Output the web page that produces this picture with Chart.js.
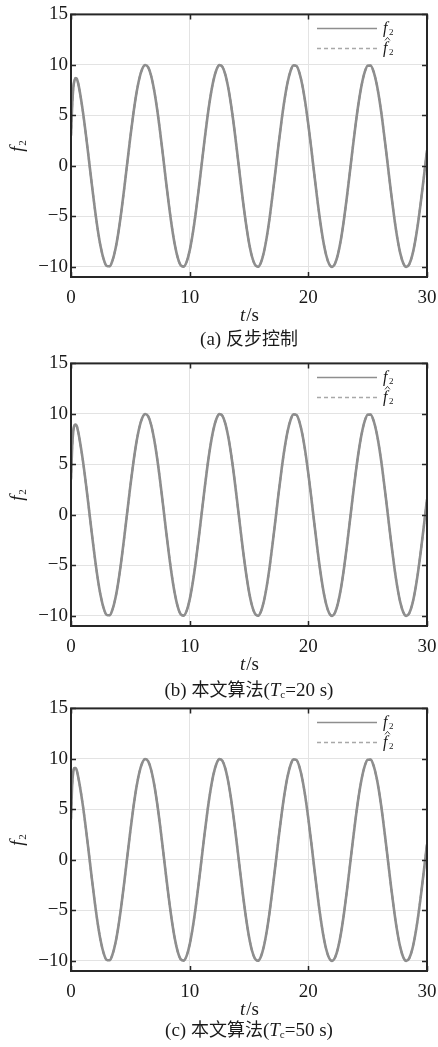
<!DOCTYPE html>
<html>
<head>
<meta charset="utf-8">
<script src="https://cdn.jsdelivr.net/npm/chart.js@4.4.1/dist/chart.umd.min.js"></script>
<style>
    body { margin: 0; background: #fff; width: 438px; height: 1047px; position: relative; overflow: hidden; }
    .panel { position: absolute; left: 0; }
    .caption {
        position: absolute; left: 61px; width: 376px; text-align: center;
        font: 19px "Liberation Serif", "Times New Roman", "DejaVu Serif", serif; line-height: 22px; color: #1a1a1a;
    }
    .caption .cjk { font-family: "Noto Sans CJK SC", sans-serif; font-size: 18px; }
    .caption sub { font-size: 11px; vertical-align: -2px; }
</style>
</head>
<body>
<canvas id="chartBackstep" class="panel" width="438" height="340" style="top:0px"></canvas>
<div class="caption" style="top:326px">(a) <span class="cjk">反步控制</span></div>

<canvas id="chartTc20" class="panel" width="438" height="340" style="top:349px"></canvas>
<div class="caption" style="top:677px">(b) <span class="cjk">本文算法</span>(<i>T</i><sub>c</sub>=20 s)</div>

<canvas id="chartTc50" class="panel" width="438" height="340" style="top:694px"></canvas>
<div class="caption" style="top:1017px">(c) <span class="cjk">本文算法</span>(<i>T</i><sub>c</sub>=50 s)</div>

<script>
if (document.readyState == 'loading') {
    document.addEventListener('DOMContentLoaded', ready);
} else {
    ready();
}

// sample times (s): dense over the start-up, then every 0.25 s
const timeSec = [0, 0.1, 0.2, 0.3, 0.4, 0.5, 0.6, 0.75,
    1, 1.25, 1.5, 1.75, 2, 2.25, 2.5, 2.75, 3, 3.25, 3.5, 3.75, 4, 4.25, 4.5, 4.75,
    5, 5.25, 5.5, 5.75, 6, 6.25, 6.5, 6.75, 7, 7.25, 7.5, 7.75, 8, 8.25, 8.5, 8.75,
    9, 9.25, 9.5, 9.75, 10, 10.25, 10.5, 10.75, 11, 11.25, 11.5, 11.75, 12, 12.25, 12.5, 12.75,
    13, 13.25, 13.5, 13.75, 14, 14.25, 14.5, 14.75, 15, 15.25, 15.5, 15.75, 16, 16.25, 16.5, 16.75,
    17, 17.25, 17.5, 17.75, 18, 18.25, 18.5, 18.75, 19, 19.25, 19.5, 19.75, 20, 20.25, 20.5, 20.75,
    21, 21.25, 21.5, 21.75, 22, 22.25, 22.5, 22.75, 23, 23.25, 23.5, 23.75, 24, 24.25, 24.5, 24.75,
    25, 25.25, 25.5, 25.75, 26, 26.25, 26.5, 26.75, 27, 27.25, 27.5, 27.75, 28, 28.25, 28.5, 28.75,
    29, 29.25, 29.5, 29.75, 30];

// start-up part of f2 (t = 0 .. 0.75) for each controller
const f2HeadBackstep = [3.0, 6.0, 7.8, 8.5, 8.7, 8.6, 8.2, 7.3];
const f2HeadTc20 = [3.5, 6.8, 8.4, 8.9, 8.95, 8.75, 8.25, 7.3];
const f2HeadTc50 = [4.0, 7.5, 8.8, 9.1, 9.1, 8.8, 8.25, 7.3];

// steady part, shared by all three (t = 1 .. 30)
const f2Tail = [5.40, 3.15, 0.71, -1.78, -4.16, -6.28, -8.01, -9.24, -9.90, -9.94, -9.36, -8.21,
    -6.54, -4.46, -2.11, 0.38, 2.84, 5.12, 7.09, 8.61, 9.60, 9.99, 9.77, 8.93,
    7.54, 5.68, 3.47, 1.04, -1.46, -3.86, -6.02, -7.81, -9.11, -9.85, -9.97, -9.48,
    -8.39, -6.78, -4.76, -2.43, 0.04, 2.52, 4.84, 6.85, 8.44, 9.50, 9.98, 9.83,
    9.07, 7.75, 5.95, 3.78, 1.37, -1.13, -3.55, -5.75, -7.60, -8.97, -9.78, -9.99,
    -9.58, -8.57, -7.03, -5.05, -2.75, -0.29, 2.20, 4.54, 6.60, 8.26, 9.40, 9.95,
    9.89, 9.21, 7.96, 6.21, 4.08, 1.70, -0.80, -3.24, -5.48, -7.38, -8.82, -9.71,
    -10.00, -9.67, -8.73, -7.26, -5.33, -3.07, -0.62, 1.87, 4.24, 6.35, 8.06, 9.28,
    9.91, 9.93, 9.33, 8.15, 6.47, 4.39, 2.02, -0.46, -2.92, -5.20, -7.15, -8.66,
    -9.63, -10.00, -9.75, -8.89, -7.48, -5.61, -3.38, -0.95, 1.54];

const xTicks = [0, 10, 20, 30];
const yTicks = [-10, -5, 0, 5, 10, 15];

const lineGrey = '#8e8e8e';
const serif = '"Liberation Serif", "Times New Roman", "DejaVu Serif", serif';

function ready() {
    createPanel('chartBackstep', f2HeadBackstep);
    createPanel('chartTc20', f2HeadTc20);
    createPanel('chartTc50', f2HeadTc50);
}

function createPanel(canvasId, head) {
    const canvas = document.getElementById(canvasId);
    const f2 = head.concat(f2Tail);
    const f2Points = f2.map((v, i) => ({ x: timeSec[i], y: v }));
    const f2HatPoints = f2.map((v, i) => ({ x: timeSec[i], y: v }));

    // frame, inward ticks, axis titles and legend
    const frameAndLabels = {
        id: 'frameAndLabels',
        afterDraw(chart) {
            const { ctx, chartArea: { left, right, top, bottom }, scales: { x, y } } = chart;
            ctx.save();

            ctx.strokeStyle = '#262626';
            ctx.lineWidth = 2;
            ctx.strokeRect(left, top, right - left, bottom - top);

            ctx.lineWidth = 1.5;
            ctx.beginPath();
            yTicks.forEach(v => {
                const py = Math.round(y.getPixelForValue(v)) + 0.5;
                ctx.moveTo(left, py); ctx.lineTo(left + 5, py);
                ctx.moveTo(right, py); ctx.lineTo(right - 5, py);
            });
            xTicks.forEach(v => {
                const px = Math.round(x.getPixelForValue(v)) + 0.5;
                ctx.moveTo(px, bottom); ctx.lineTo(px, bottom - 5);
                ctx.moveTo(px, top); ctx.lineTo(px, top + 5);
            });
            ctx.stroke();

            ctx.fillStyle = '#1a1a1a';
            ctx.textBaseline = 'middle';

            // x title: t/s
            ctx.font = 'italic 19px ' + serif;
            const tW = ctx.measureText('t').width;
            ctx.font = '19px ' + serif;
            const sW = ctx.measureText('/s').width;
            const tx = (left + right) / 2 - (tW + sW) / 2;
            ctx.textAlign = 'left';
            ctx.font = 'italic 19px ' + serif;
            ctx.fillText('t', tx, bottom + 39);
            ctx.font = '19px ' + serif;
            ctx.fillText('/s', tx + tW + 1, bottom + 39);

            // y title: f2, rotated
            ctx.save();
            ctx.translate(18, (top + bottom) / 2);
            ctx.rotate(-Math.PI / 2);
            ctx.font = 'italic 19px ' + serif;
            ctx.fillText('f', -6, 0);
            ctx.font = '11px ' + serif;
            ctx.fillText('2', 0, 5);
            ctx.restore();

            // legend
            const lx0 = right - 110, lx1 = right - 50;
            const ly0 = top + 14, ly1 = top + 34;
            ctx.strokeStyle = lineGrey;
            ctx.lineWidth = 1.5;
            ctx.beginPath();
            ctx.moveTo(lx0, ly0); ctx.lineTo(lx1, ly0);
            ctx.stroke();
            ctx.strokeStyle = '#a8a8a8';
            ctx.setLineDash([4, 3]);
            ctx.beginPath();
            ctx.moveTo(lx0, ly1); ctx.lineTo(lx1, ly1);
            ctx.stroke();
            ctx.setLineDash([]);

            const fx = right - 44;
            [ly0, ly1].forEach((ly, i) => {
                ctx.font = 'italic 16px ' + serif;
                ctx.fillText('f', fx, ly);
                ctx.font = '9px ' + serif;
                ctx.fillText('2', fx + 6, ly + 4);
                if (i == 1) {
                    ctx.strokeStyle = '#1a1a1a';
                    ctx.lineWidth = 0.8;
                    ctx.beginPath();
                    ctx.moveTo(fx + 2, ly - 8);
                    ctx.lineTo(fx + 4.5, ly - 11);
                    ctx.lineTo(fx + 7, ly - 8);
                    ctx.stroke();
                }
            });

            ctx.restore();
        }
    };

    const config = {
        type: 'line',
        data: {
            datasets: [{
                label: 'f2',
                data: f2Points,
                borderColor: lineGrey,
                borderWidth: 2.6,
                pointRadius: 0,
                cubicInterpolationMode: 'monotone',
                order: 1
            }, {
                label: 'f2 hat',
                data: f2HatPoints,
                borderColor: lineGrey,
                borderWidth: 2,
                borderDash: [4, 3],
                pointRadius: 0,
                cubicInterpolationMode: 'monotone',
                order: 0
            }]
        },
        options: {
            responsive: false,
            animation: false,
            layout: { padding: { left: 0, top: 13, right: 11, bottom: 23 } },
            plugins: {
                legend: { display: false },
                tooltip: { enabled: false }
            },
            scales: {
                x: {
                    type: 'linear',
                    min: 0,
                    max: 30,
                    afterBuildTicks: scale => { scale.ticks = xTicks.map(v => ({ value: v })); },
                    afterFit: scale => {
                        scale.height = 40;
                        // let the "30" label run past the plot edge
                        scale.paddingLeft = 0;
                        scale.paddingRight = 0;
                    },
                    grid: { color: '#e3e3e3', drawTicks: false },
                    border: { display: false },
                    ticks: {
                        padding: 10,
                        color: '#1a1a1a',
                        maxRotation: 0,
                        font: { family: serif, size: 19 }
                    }
                },
                y: {
                    min: -11,
                    max: 15,
                    afterBuildTicks: scale => { scale.ticks = yTicks.map(v => ({ value: v })); },
                    afterFit: scale => { scale.width = 71; },
                    grid: { color: '#e3e3e3', drawTicks: false },
                    border: { display: false },
                    ticks: {
                        padding: 3,
                        color: '#1a1a1a',
                        font: { family: serif, size: 19 },
                        callback: v => v < 0 ? '\u2212' + Math.abs(v) : v
                    }
                }
            }
        },
        plugins: [frameAndLabels]
    };

    new Chart(canvas, config);
}
</script>
</body>
</html>
